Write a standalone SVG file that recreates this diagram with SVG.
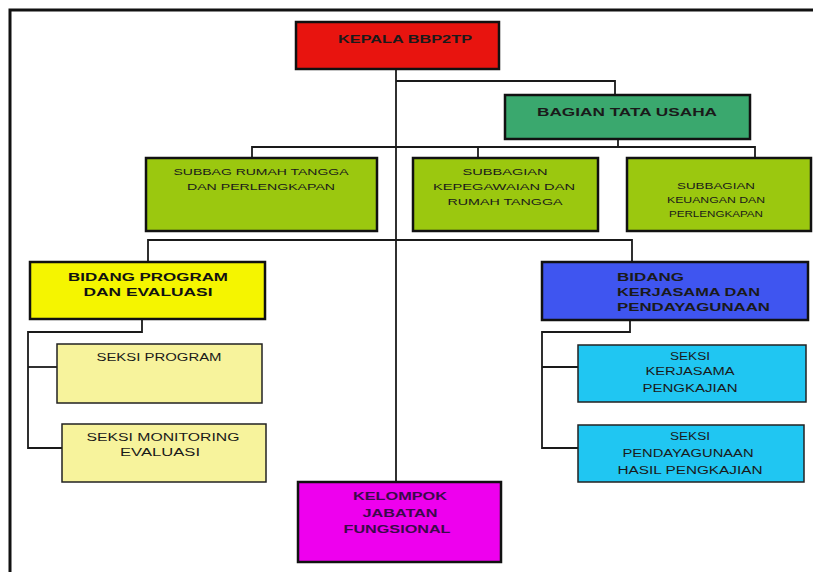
<svg xmlns="http://www.w3.org/2000/svg" width="813" height="572" viewBox="0 0 813 572">
<style>
.box{stroke:#111;stroke-width:2.5}
.lbox{stroke:#222;stroke-width:1.5}
.t{font-family:"Liberation Sans",Arial,sans-serif;font-size:10.5px;font-weight:bold;fill:#1a1a1a;text-anchor:middle}
.ts{font-family:"Liberation Sans",Arial,sans-serif;font-size:9px;fill:#1a1a1a;text-anchor:middle}
.tl{font-family:"Liberation Sans",Arial,sans-serif;font-size:10px;fill:#1a1a1a;text-anchor:middle}
.tb{font-family:"Liberation Sans",Arial,sans-serif;font-size:11.5px;font-weight:bold;fill:#111;text-anchor:middle}
.conn{stroke:#1a1a1a;stroke-width:1.8;fill:none}
</style>
<rect width="813" height="572" fill="#fff"/>
<path d="M10,572 V10 H813" stroke="#111" stroke-width="3" fill="none"/>
<g id="connectors">
<path class="conn" d="M396,69 V482"/>
<path class="conn" d="M396,81 H615 V95"/>
<path class="conn" d="M618,139 V147"/>
<path class="conn" d="M252,157 V147 H755 V157"/>
<path class="conn" d="M478,147 V157"/>
<path class="conn" d="M148,261 V240 H632 V262"/>
<path class="conn" d="M142,319 V332 H28 V448 H62"/>
<path class="conn" d="M28,367 H57"/>
<path class="conn" d="M630,320 V332 H542 V448 H578"/>
<path class="conn" d="M542,367 H578"/>
</g>
<g id="kepala">
<rect class="box" x="296" y="22" width="203" height="47" fill="#e8140f"/>
<text class="t" x="405" y="43" textLength="134" lengthAdjust="spacingAndGlyphs">KEPALA BBP2TP</text>
</g>
<g id="tata-usaha">
<rect class="box" x="505" y="95" width="245" height="44" fill="#3aa86e"/>
<text class="t" x="627" y="116" textLength="180" lengthAdjust="spacingAndGlyphs">BAGIAN TATA USAHA</text>
</g>
<g id="subbag-rt">
<rect class="box" x="146" y="158" width="231" height="73" fill="#9bc80f"/>
<text class="ts" x="261" y="175" textLength="175" lengthAdjust="spacingAndGlyphs">SUBBAG RUMAH TANGGA</text>
<text class="ts" x="261" y="190" textLength="148" lengthAdjust="spacingAndGlyphs">DAN PERLENGKAPAN</text>
</g>
<g id="subbag-kepeg">
<rect class="box" x="413" y="158" width="185" height="73" fill="#9bc80f"/>
<text class="ts" x="505" y="175" textLength="85" lengthAdjust="spacingAndGlyphs">SUBBAGIAN</text>
<text class="ts" x="504" y="190" textLength="142" lengthAdjust="spacingAndGlyphs">KEPEGAWAIAN DAN</text>
<text class="ts" x="505" y="205" textLength="115" lengthAdjust="spacingAndGlyphs">RUMAH TANGGA</text>
</g>
<g id="subbag-keu">
<rect class="box" x="627" y="158" width="184" height="73" fill="#9bc80f"/>
<text class="ts" x="716" y="189" textLength="78" lengthAdjust="spacingAndGlyphs">SUBBAGIAN</text>
<text class="ts" x="716" y="203" textLength="98" lengthAdjust="spacingAndGlyphs">KEUANGAN DAN</text>
<text class="ts" x="716" y="217" textLength="94" lengthAdjust="spacingAndGlyphs">PERLENGKAPAN</text>
</g>
<g id="bidang-program">
<rect class="box" x="30" y="262" width="235" height="57" fill="#f5f500"/>
<text class="tb" x="148" y="281" textLength="160" lengthAdjust="spacingAndGlyphs">BIDANG PROGRAM</text>
<text class="tb" x="148" y="296" textLength="129" lengthAdjust="spacingAndGlyphs">DAN EVALUASI</text>
</g>
<g id="seksi-program">
<rect class="lbox" x="57" y="344" width="205" height="59" fill="#f7f39c"/>
<text class="tl" x="159" y="361" textLength="125" lengthAdjust="spacingAndGlyphs">SEKSI PROGRAM</text>
</g>
<g id="seksi-monitoring">
<rect class="lbox" x="62" y="424" width="204" height="58" fill="#f7f39c"/>
<text class="tl" x="163" y="441" textLength="153" lengthAdjust="spacingAndGlyphs">SEKSI MONITORING</text>
<text class="tl" x="160" y="456" textLength="80" lengthAdjust="spacingAndGlyphs">EVALUASI</text>
</g>
<g id="bidang-kerjasama">
<rect class="box" x="542" y="262" width="266" height="58" fill="#3f55f0"/>
<text class="t" x="617" y="281" style="text-anchor:start" textLength="67" lengthAdjust="spacingAndGlyphs">BIDANG</text>
<text class="t" x="617" y="296" style="text-anchor:start" textLength="143" lengthAdjust="spacingAndGlyphs">KERJASAMA DAN</text>
<text class="t" x="617" y="311" style="text-anchor:start" textLength="153" lengthAdjust="spacingAndGlyphs">PENDAYAGUNAAN</text>
</g>
<g id="seksi-kerjasama">
<rect class="lbox" x="578" y="345" width="228" height="57" fill="#20c6f2"/>
<text class="tl" x="690" y="360" textLength="40" lengthAdjust="spacingAndGlyphs">SEKSI</text>
<text class="tl" x="690" y="375" textLength="89" lengthAdjust="spacingAndGlyphs">KERJASAMA</text>
<text class="tl" x="690" y="392" textLength="95" lengthAdjust="spacingAndGlyphs">PENGKAJIAN</text>
</g>
<g id="seksi-pendayagunaan">
<rect class="lbox" x="578" y="425" width="226" height="57" fill="#20c6f2"/>
<text class="tl" x="690" y="440" textLength="40" lengthAdjust="spacingAndGlyphs">SEKSI</text>
<text class="tl" x="688" y="457" textLength="131" lengthAdjust="spacingAndGlyphs">PENDAYAGUNAAN</text>
<text class="tl" x="690" y="474" textLength="145" lengthAdjust="spacingAndGlyphs">HASIL PENGKAJIAN</text>
</g>
<g id="fungsional">
<rect class="box" x="298" y="482" width="203" height="80" fill="#ee00ee"/>
<text class="t" x="400" y="500" style="fill:#3a0a4a" textLength="94" lengthAdjust="spacingAndGlyphs">KELOMPOK</text>
<text class="t" x="400" y="517" style="fill:#3a0a4a" textLength="75" lengthAdjust="spacingAndGlyphs">JABATAN</text>
<text class="t" x="397" y="533" style="fill:#3a0a4a" textLength="107" lengthAdjust="spacingAndGlyphs">FUNGSIONAL</text>
</g>
</svg>
